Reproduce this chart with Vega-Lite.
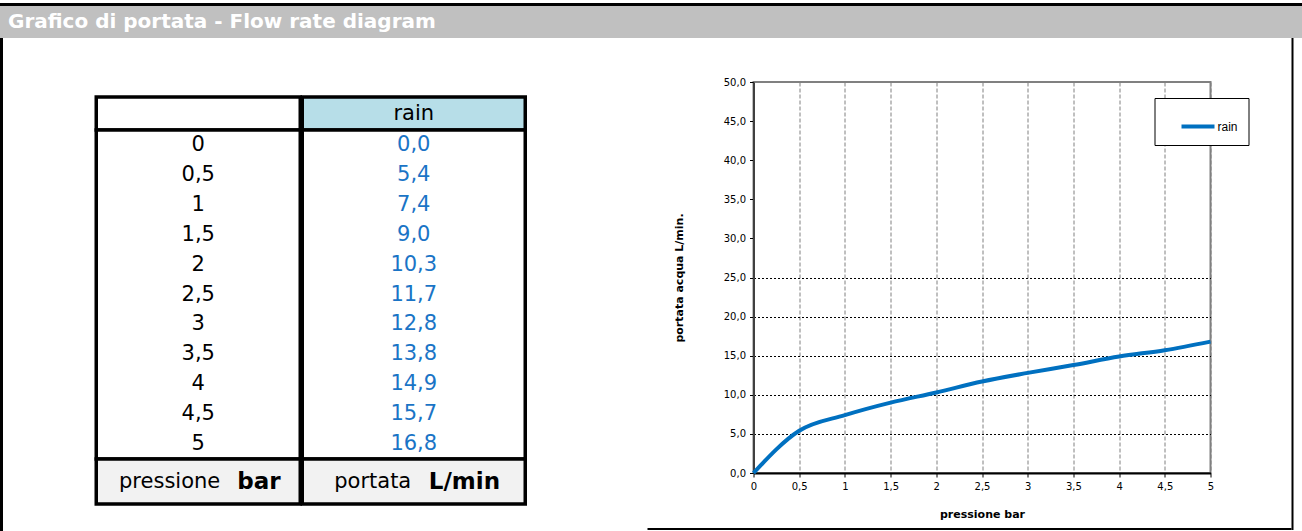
{
  "$schema": "https://vega.github.io/schema/vega-lite/v6.json",
  "background": "white",
  "padding": {"left": 0, "top": 3, "right": 0, "bottom": 0},
  "datasets": {
    "flow": [
      {"p": 0, "q": 0.0},
      {"p": 0.5, "q": 5.4},
      {"p": 1, "q": 7.4},
      {"p": 1.5, "q": 9.0},
      {"p": 2, "q": 10.3},
      {"p": 2.5, "q": 11.7},
      {"p": 3, "q": 12.8},
      {"p": 3.5, "q": 13.8},
      {"p": 4, "q": 14.9},
      {"p": 4.5, "q": 15.7},
      {"p": 5, "q": 16.8}
    ],
    "header": [{"title": "Grafico di portata - Flow rate diagram"}],
    "blank": [{}],
    "series": [{"series": "rain"}]
  },
  "config": {
    "locale": {"number": {"decimal": ",", "thousands": ".", "grouping": [3], "currency": ["€", ""]}},
    "view": {"stroke": null},
    "concat": {"spacing": 0},
    "text": {"font": "DejaVu Sans"}
  },
  "spacing": 0,
  "resolve": {"scale": {"color": "independent"}, "legend": {"color": "independent"}},
  "vconcat": [
    {
      "width": 1302, "height": 3,
      "view": {"fill": "black", "stroke": null},
      "data": {"name": "blank"},
      "mark": {"type": "text", "text": "", "fontSize": 0}
    },
    {
      "width": 1302, "height": 32,
      "view": {"fill": "#c0c0c0", "stroke": null},
      "data": {"name": "header"},
      "mark": {"type": "text", "align": "left", "baseline": "middle", "dx": 8, "font": "DejaVu Sans", "fontWeight": "bold", "fontSize": 20, "color": "white"},
      "encoding": {
        "x": {"datum": 0, "type": "quantitative", "scale": {"domain": [0, 1]}, "axis": null},
        "text": {"field": "title"}
      }
    },
    {
      "spacing": 91.25,
      "resolve": {"scale": {"color": "independent"}, "legend": {"color": "independent"}},
      "hconcat": [
        {
          "width": 3, "height": 493,
          "view": {"fill": "black", "stroke": null},
          "data": {"name": "blank"},
          "mark": {"type": "text", "text": "", "fontSize": 0}
        },
        {
          "spacing": 120.25,
          "resolve": {"scale": {"color": "independent"}, "legend": {"color": "independent"}},
          "hconcat": [
            {
              "spacing": 0,
              "vconcat": [
                {
                  "width": 1, "height": 56.25,
                  "data": {"name": "blank"},
                  "mark": {"type": "text", "text": "", "fontSize": 0}
                },
                {
                  "spacing": -3.5,
                  "hconcat": [
                    {
                      "spacing": 0,
                      "bounds": "flush",
                      "vconcat": [
                        {
                          "width": 204, "height": 33,
                          "view": {"fill": "white", "stroke": "black", "strokeWidth": 3.5},
                          "data": {"name": "blank"},
                          "mark": {"type": "text", "text": "", "fontSize": 0}
                        },
                        {
                          "width": 204, "height": 329,
                          "view": {"fill": "white", "stroke": "black", "strokeWidth": 3.5},
                          "data": {"name": "flow"},
                          "mark": {"type": "text", "fontSize": 21, "color": "black", "baseline": "middle"},
                          "encoding": {
                            "y": {"field": "p", "type": "ordinal", "axis": null},
                            "text": {"field": "p", "type": "quantitative", "format": ".1~f"}
                          }
                        },
                        {
                          "width": 204, "height": 45,
                          "view": {"fill": "#f2f2f2", "stroke": "black", "strokeWidth": 3.5},
                          "data": {"values": [{"qty": "pressione", "unit": "bar"}]},
                          "layer": [
                            {
                              "mark": {"type": "text", "align": "right", "baseline": "middle", "dx": 22, "fontSize": 21, "color": "black"},
                              "encoding": {"text": {"field": "qty"}}
                            },
                            {
                              "mark": {"type": "text", "align": "left", "baseline": "middle", "dx": 39, "fontSize": 23, "fontWeight": "bold", "color": "black"},
                              "encoding": {"text": {"field": "unit"}}
                            }
                          ]
                        }
                      ]
                    },
                    {
                      "spacing": 0,
                      "bounds": "flush",
                      "vconcat": [
                        {
                          "width": 223, "height": 33,
                          "view": {"fill": "#b7dee8", "stroke": "black", "strokeWidth": 3.5},
                          "data": {"name": "series"},
                          "mark": {"type": "text", "fontSize": 21, "color": "black", "baseline": "middle"},
                          "encoding": {"text": {"field": "series"}}
                        },
                        {
                          "width": 223, "height": 329,
                          "view": {"fill": "white", "stroke": "black", "strokeWidth": 3.5},
                          "data": {"name": "flow"},
                          "mark": {"type": "text", "fontSize": 21, "color": "#1a74c6", "baseline": "middle"},
                          "encoding": {
                            "y": {"field": "p", "type": "ordinal", "axis": null},
                            "text": {"field": "q", "type": "quantitative", "format": ".1f"}
                          }
                        },
                        {
                          "width": 223, "height": 45,
                          "view": {"fill": "#f2f2f2", "stroke": "black", "strokeWidth": 3.5},
                          "data": {"values": [{"qty": "portata", "unit": "L/min"}]},
                          "layer": [
                            {
                              "mark": {"type": "text", "align": "right", "baseline": "middle", "dx": -2.5, "fontSize": 21, "color": "black"},
                              "encoding": {"text": {"field": "qty"}}
                            },
                            {
                              "mark": {"type": "text", "align": "left", "baseline": "middle", "dx": 15, "fontSize": 23, "fontWeight": "bold", "color": "black"},
                              "encoding": {"text": {"field": "unit"}}
                            }
                          ]
                        }
                      ]
                    }
                  ]
                }
              ]
            },
            {
              "spacing": 0,
              "resolve": {"scale": {"color": "independent"}, "legend": {"color": "independent"}},
              "hconcat": [
                {
                  "spacing": 8,
                  "resolve": {"scale": {"color": "independent"}, "legend": {"color": "independent"}},
                  "vconcat": [
                    {
                      "width": 1, "height": 30,
                      "data": {"name": "blank"},
                      "mark": {"type": "text", "text": "", "fontSize": 0}
                    },
                    {
                      "spacing": 0,
                      "resolve": {"scale": {"color": "independent"}, "legend": {"color": "independent"}},
                      "hconcat": [
                        {
                          "width": 24, "height": 1,
                          "data": {"name": "blank"},
                          "mark": {"type": "text", "text": "", "fontSize": 0}
                        },
                        {
                          "width": 457, "height": 391,
                          "view": {"stroke": "#808080", "strokeWidth": 2},
                          "data": {"name": "flow"},
                          "mark": {"type": "line", "interpolate": "monotone", "strokeWidth": 4},
                          "encoding": {
                            "x": {
                              "field": "p", "type": "quantitative",
                              "scale": {"domain": [0, 5], "nice": false},
                              "axis": {
                                "values": [0, 0.5, 1, 1.5, 2, 2.5, 3, 3.5, 4, 4.5, 5],
                                "format": ".1~f",
                                "labelFont": "DejaVu Sans", "labelFontSize": 10, "labelColor": "black",
                                "labelPadding": 4, "labelFlush": false, "labelOverlap": false,
                                "tickSize": 4, "tickColor": "black",
                                "domainColor": "black", "domainWidth": 2,
                                "grid": true, "gridColor": "#808080", "gridDash": [4, 2], "gridWidth": 1,
                                "title": "pressione bar",
                                "titleFont": "DejaVu Sans", "titleFontSize": 11, "titleFontWeight": "bold", "titleColor": "black",
                                "titlePadding": 17
                              }
                            },
                            "y": {
                              "field": "q", "type": "quantitative",
                              "scale": {"domain": [0, 50], "nice": false},
                              "axis": {
                                "values": [0, 5, 10, 15, 20, 25, 30, 35, 40, 45, 50],
                                "format": ".1f",
                                "labelFont": "DejaVu Sans", "labelFontSize": 10, "labelColor": "black",
                                "labelPadding": 4, "labelFlush": false, "labelOverlap": false,
                                "tickSize": 4, "tickColor": "black",
                                "domainColor": "#404040", "domainWidth": 2,
                                "grid": true, "gridColor": "black", "gridDash": [2, 2], "gridWidth": 1,
                                "gridOpacity": {"condition": {"test": "datum.value <= 25", "value": 1}, "value": 0},
                                "title": "portata acqua  L/min.",
                                "titleFont": "DejaVu Sans", "titleFontSize": 11, "titleFontWeight": "bold", "titleColor": "black",
                                "titlePadding": 39
                              }
                            },
                            "color": {
                              "datum": "rain", "type": "nominal",
                              "scale": {"range": ["#0070c0"]},
                              "legend": {
                                "title": null, "orient": "none", "legendX": 401, "legendY": 16,
                                "symbolType": "stroke", "symbolStrokeWidth": 4, "symbolSize": 1089,
                                "symbolOffset": 15, "labelOffset": 1,
                                "labelFont": "Liberation Sans", "labelFontSize": 12, "labelColor": "black",
                                "padding": 10, "strokeColor": "black", "fillColor": "white"
                              }
                            }
                          }
                        }
                      ]
                    },
                    {
                      "width": 644, "height": 2,
                      "view": {"fill": "black", "stroke": null},
                      "data": {"name": "blank"},
                      "mark": {"type": "text", "text": "", "fontSize": 0}
                    }
                  ]
                },
                {
                  "width": 2, "height": 492,
                  "view": {"fill": "black", "stroke": null},
                  "data": {"name": "blank"},
                  "mark": {"type": "text", "text": "", "fontSize": 0}
                }
              ]
            }
          ]
        }
      ]
    }
  ]
}
